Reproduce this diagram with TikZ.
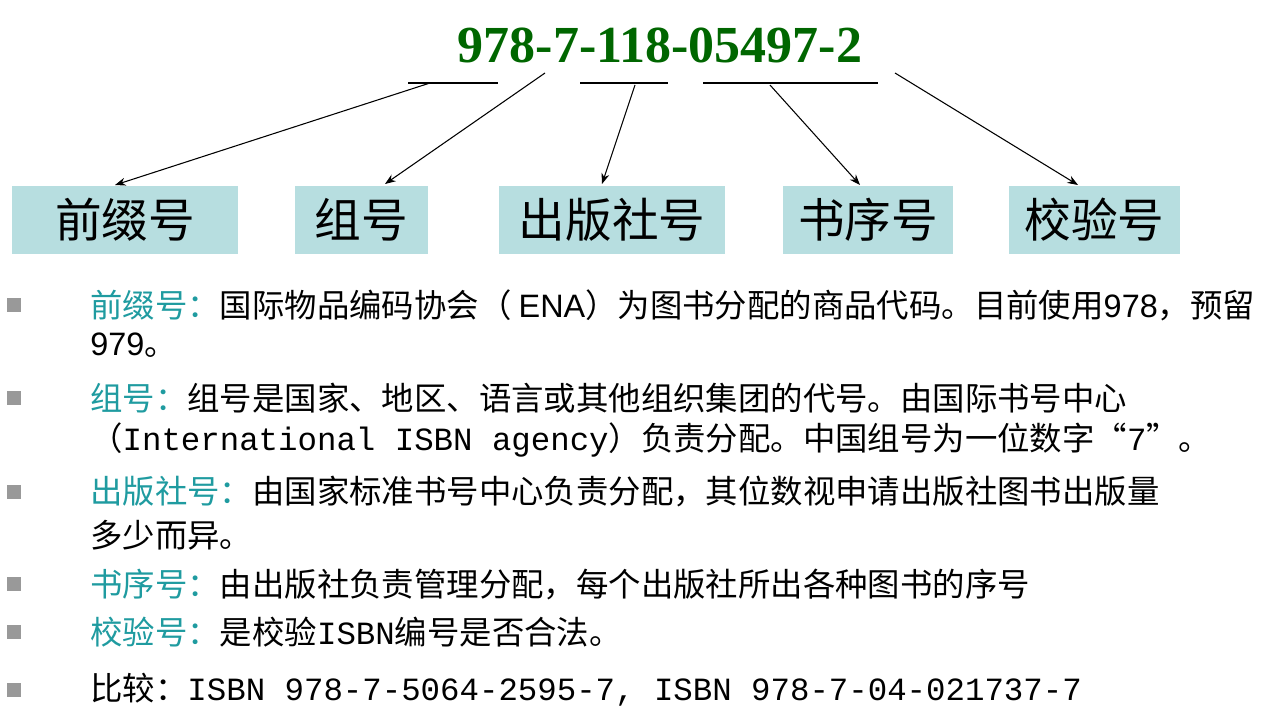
\documentclass[tikz,border=0pt]{standalone}
\usetikzlibrary{arrows.meta}
\usepackage{fontspec}
\setmainfont{Liberation Serif}
\newfontfamily\cjk{Noto Sans CJK SC}
\newfontfamily\arial{Liberation Sans}
\newfontfamily\mono{Liberation Mono}
\definecolor{boxc}{HTML}{B7DEE0}
\definecolor{teal2}{HTML}{1F9BA0}
\definecolor{dgreen}{HTML}{006600}
\begin{document}
\begin{tikzpicture}[x=0.75pt,y=-0.75pt,
  lab/.style={fill=boxc,inner sep=0pt,font=\cjk\fontsize{35}{35}\selectfont},
  ln/.style={anchor=west,inner sep=0pt,font=\cjk\fontsize{24.3}{24}\selectfont},
  arr/.style={-{Stealth[length=8pt,width=6pt]},thick},
  bul/.style={fill=gray!80,minimum size=10pt,inner sep=0pt}]
\useasboundingbox (0,0) rectangle (1282,714);
\node[font=\bfseries\fontsize{39}{39}\selectfont,text=dgreen] (t) at (660,45) {978-7-118-05497-2};
\draw[thick] (408,83) coordinate(a1) -- (498,83);
\draw[thick] (580,83) -- (668,83);
\draw[thick] (703,83) -- (878,83);
\node[lab,minimum width=226*0.75pt,minimum height=68*0.75pt] (b1) at (125,220) {前缀号};
\node[lab,minimum width=133*0.75pt,minimum height=68*0.75pt] (b2) at (361.5,220) {组号};
\node[lab,minimum width=226*0.75pt,minimum height=68*0.75pt] (b3) at (612,220) {出版社号};
\node[lab,minimum width=170*0.75pt,minimum height=68*0.75pt] (b4) at (868,220) {书序号};
\node[lab,minimum width=171*0.75pt,minimum height=68*0.75pt] (b5) at (1094.5,220) {校验号};
\coordinate (s1) at (430,83); \coordinate (s2) at (545,73); \coordinate (s3) at (635,85);
\coordinate (s4) at (770,85); \coordinate (s5) at (895,73);
\draw[arr] (s1) -- (115,185);
\draw[arr] (s2) -- (385,184);
\draw[arr] (s3) -- (602,184);
\draw[arr] (s4) -- (860,185);
\draw[arr] (s5) -- (1078,185);
\foreach \y/\n in {305/u1,398/u2,492/u3,584/u4,632/u5,690/u6}{\node[bul] (\n) at (14,\y) {};}
\node[ln] (l1) at (90,305) {\textcolor{teal2}{前缀号：}国际物品编码协会（ {\arial ENA}）为图书分配的商品代码。目前使用{\arial 978}，预留};
\node[ln] (l2) at (90,345) {{\arial 979}。};
\node[ln] (l3) at (90,398) {\textcolor{teal2}{组号：}组号是国家、地区、语言或其他组织集团的代号。由国际书号中心};
\node[ln] (l4) at (90,440) {（{\mono International ISBN agency}）负责分配。中国组号为一位数字“{\mono 7}”。};
\node[ln] (l5) at (90,492) {\textcolor{teal2}{出版社号：}由国家标准书号中心负责分配，其位数视申请出版社图书出版量};
\node[ln] (l6) at (90,535) {多少而异。};
\node[ln] (l7) at (90,584) {\textcolor{teal2}{书序号：}由出版社负责管理分配，每个出版社所出各种图书的序号};
\node[ln] (l8) at (90,632) {\textcolor{teal2}{校验号：}是校验{\mono ISBN}编号是否合法。};
\node[ln] (l9) at (90,690) {比较：{\mono ISBN 978-7-5064-2595-7, ISBN 978-7-04-021737-7}};
\end{tikzpicture}
\end{document}
